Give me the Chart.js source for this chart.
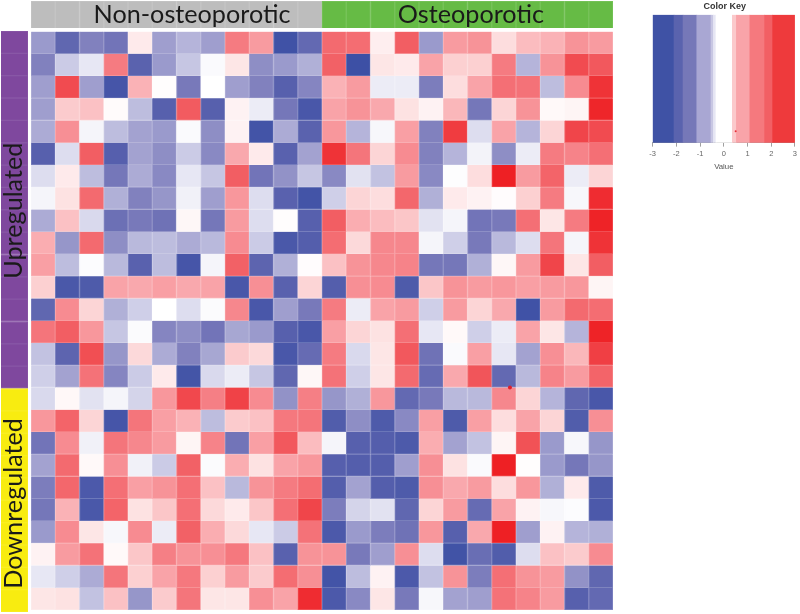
<!DOCTYPE html>
<html>
<head>
<meta charset="utf-8">
<title>Heatmap</title>
<script src="https://cdn.jsdelivr.net/npm/chart.js@4/dist/chart.umd.min.js"></script>
<style>
    html, body { margin: 0; padding: 0; background: #fff; }
    body { position: relative; width: 800px; height: 614px; overflow: hidden; }
    canvas { position: absolute; filter: blur(0.45px); }
    #key-chart { filter: blur(0.6px); }
</style>
</head>
<body>
<canvas id="main-chart" width="640" height="614" style="left:0;top:0"></canvas>
<canvas id="top-chart" width="640" height="30" style="left:0;top:0"></canvas>
<canvas id="side-chart" width="30" height="614" style="left:0;top:0"></canvas>
<canvas id="key-chart" width="160" height="180" style="left:640px;top:0"></canvas>
<script>
// rows top to bottom, 12 samples each
const nonOsteoporotic = [
    [-1.1, -1.9, -1.4, -1.6, 0.25, -1.05, -0.8, -1.05, 1.5, 1.1, -2.9, -1.85],
    [-1.4, -0.55, -0.25, 1.5, -2.0, -1.1, -0.6, -0.05, 0.3, -1.25, -1.1, -0.85],
    [-1.05, 2.3, -1.05, -2.7, 0.85, 0.02, -1.5, 0, -1.05, -1.4, -2.1, -1.35],
    [-1.05, 0.6, 0.7, 0.05, -0.7, -2.1, 2.05, -2.1, 0.15, -0.2, -1.55, -2.6],
    [-0.9, 1.25, -0.1, -0.7, -1.0, -1.1, -0.05, -1.25, 0.15, -2.8, -0.9, -2.0],
    [-2.1, -0.35, 2.0, -2.15, -1.0, -1.25, -0.55, -1.3, 0.95, 0.25, -2.05, -1.0],
    [-0.35, 0.25, -0.7, -1.55, -0.9, -1.3, -0.25, -0.6, 2.0, -1.6, -1.2, -0.6],
    [-0.1, 0.35, 1.8, -0.85, -1.4, -1.15, -0.15, -1.05, 1.15, -0.35, -2.05, -2.8],
    [-0.9, 0.7, -0.4, -1.7, -1.5, -1.65, 0.1, -1.55, 1.1, -0.35, 0.02, -2.1],
    [0.9, -1.15, 1.8, -1.25, -0.75, -0.7, -0.9, -0.75, 1.3, -0.55, -2.55, -2.2],
    [1.05, -0.7, -0.03, -0.75, -2.05, -0.7, -2.7, -0.1, 1.95, -1.95, -0.85, 0.03],
    [0.55, -2.55, -2.4, 1.0, 0.95, 1.05, 0.95, 1.0, -2.6, 1.25, -2.05, 0.5],
    [-1.9, 1.3, 0.5, -0.85, -0.5, 0, -0.35, -0.04, 1.35, -2.6, -1.05, -1.5],
    [1.6, 2.0, 1.15, -0.6, -0.04, -1.35, -1.25, -1.6, -0.95, -1.1, -2.1, -2.6],
    [-0.65, -1.95, 2.25, -1.15, 0.45, -0.9, -1.4, -0.95, 0.6, 0.45, -2.6, -1.8],
    [-0.5, -1.0, 1.65, -1.35, -0.55, 0.25, -2.75, -0.4, -0.2, -0.6, -1.9, 0.1],
    [-0.4, 0.08, -0.3, -0.1, -0.45, 1.15, 2.35, 1.45, 2.45, 1.3, -1.2, 1.45],
    [1.15, 1.9, 0.5, -2.7, 1.6, 1.05, 0.85, -0.7, 0.6, 0.7, 1.55, 1.6],
    [-1.6, 1.3, -0.15, 1.6, 1.35, 1.1, 0.12, 1.4, -1.6, 1.05, 2.1, 0.75],
    [-1.0, 1.8, 0.07, 1.25, -0.15, -0.55, 1.95, -0.04, 0.9, 0.35, 1.0, 1.15],
    [-1.45, 1.85, -2.5, 1.7, 1.05, 1.2, 1.7, 0.7, -0.75, 1.2, 1.5, 1.75],
    [-1.55, 0.85, -2.55, 1.9, 0.35, 0.65, 1.7, 0.45, 0.25, 0.65, 1.7, 2.4],
    [-1.1, 1.3, 0.3, -0.08, 1.3, -0.2, 1.95, 0.9, 0.45, -0.25, -0.55, 1.65],
    [0.15, 1.1, 1.65, 0.07, 0.65, 1.45, 1.2, 1.25, 1.55, 0.7, -2.05, 1.2],
    [-0.25, -0.5, -0.9, 1.6, 0.55, 1.0, 1.55, 0.55, 1.1, 0.6, 1.75, 1.25],
    [0.3, 0.35, -0.65, 0.7, -1.15, 0.6, 1.6, 0.3, 0.3, 1.25, 1.0, 2.8]
];
const osteoporotic = [
    [1.8, 1.75, 0.2, 2.0, -1.1, 1.1, 1.2, 0.4, 0.75, 0.85, 1.2, 1.1],
    [1.95, -3.0, 0.3, 0.25, 1.0, 0.55, 0.55, 1.5, -0.8, 1.2, 2.3, 2.1],
    [0.85, 1.1, -0.2, -0.2, -1.45, 0.4, 1.0, 1.7, 1.65, -0.7, 1.3, 2.7],
    [1.0, 1.2, 0.95, 0.35, 0.15, 0.8, -1.55, 0.5, 1.2, 0.07, 0.12, 2.9],
    [1.15, -0.8, -0.08, 1.05, -1.4, 2.55, -0.35, 1.0, -0.8, 0.5, 2.4, 2.3],
    [2.7, 1.6, 0.5, 1.3, -1.4, -0.8, -0.12, -1.25, -0.2, 1.5, 1.4, 1.7],
    [-1.3, -0.3, -0.65, 1.1, -1.3, -0.02, 0.4, 3.0, 1.1, 1.9, -0.2, 0.5],
    [-0.5, 0.5, 0.4, 1.85, -0.85, 0.25, 0.15, 0.03, 0.55, 1.5, -0.08, 2.8],
    [2.0, 0.9, 0.75, 0.65, -0.3, -0.1, -1.6, -1.5, 1.7, 0.3, 1.5, 2.95],
    [1.75, 0.45, 1.35, 1.35, -0.1, -0.5, -1.5, -0.75, -0.35, 1.6, -0.1, 2.7],
    [0.7, 1.2, 1.35, 1.4, -1.55, -1.55, -0.85, 0.1, 1.1, 2.4, 0.3, 2.0],
    [-2.2, 1.25, 1.3, -2.4, 0.65, 1.2, 1.1, 1.15, 1.05, 1.1, 1.15, 0.12],
    [1.5, -0.2, 1.0, 1.1, -0.5, 1.1, 0.5, 0.95, -2.9, 1.1, 1.8, 1.75],
    [1.05, 0.5, 0.35, 1.7, -0.25, 0.07, -0.5, -0.2, 1.0, 0.3, -0.8, 2.95],
    [1.5, -0.4, 0.3, 2.1, -1.65, -0.05, 1.05, -0.25, -1.0, 1.25, 0.8, 2.5],
    [1.65, -0.5, 0.3, 1.8, -1.8, 0.95, 2.15, -1.85, -0.75, 1.4, 1.1, 1.9],
    [-1.15, -0.85, 1.15, -1.85, -1.5, -0.75, -0.75, 1.35, 0.5, -0.8, -1.9, -2.6],
    [-2.3, -1.25, -2.4, -1.3, 1.05, -2.4, 1.05, 0.4, 1.0, 0.5, -2.3, 1.25],
    [-0.1, -2.1, -2.2, -2.45, 0.9, -1.0, -0.65, 0.12, 2.2, -1.1, -0.08, -1.15],
    [-2.15, -2.2, -2.2, -1.05, 1.25, 0.35, -0.05, 3.0, 0.02, -1.1, -1.55, -1.15],
    [-2.2, -1.0, -2.2, -2.4, 1.25, 0.95, 1.1, 0.4, 1.15, -0.85, 0.25, -2.4],
    [-1.45, -0.45, -0.3, -1.9, 0.5, 1.1, -1.8, 1.0, 0.15, -0.08, -0.03, -2.5],
    [-2.5, -1.1, -1.45, -1.65, 1.15, -2.1, 0.95, 3.0, -1.05, 0.15, -0.8, -0.85],
    [1.2, -1.5, -1.05, 1.25, -0.35, -2.85, -1.75, -2.3, -0.35, 0.7, 0.6, 1.3],
    [-2.8, -0.7, 0.15, -2.5, -0.65, 1.2, -1.45, 1.7, 1.2, 1.1, -1.2, -1.9],
    [-2.5, -1.3, 0.3, -1.5, -0.08, -1.0, -1.05, 1.65, 1.4, 1.1, -2.1, -1.85]
];
const sampleGroups = ['Non-osteoporotic', 'Osteoporotic'];
const sampleCounts = [12, 12];
const rowGroups = ['Upregulated', 'Downregulated'];
const rowCounts = [16, 10];
// where each group label sits, in cell units
const sampleLabelAt = [6.64, 18.14];
const rowLabelAt = [8.04, 21.14];
const keyEdges = [-3, -2.1, -1.72, -1.14, -0.54, -0.44, -0.33, 0.36, 0.53, 1.1, 1.72, 2.06, 3];
const keyTicks = [-3, -2, -1, 0, 1, 2, 3];
const strayDot = [{ x: 19.75, y: 16 }];
const keyDot = [{ x: 0.5, y: 0.09 }];

const BLUE_RED_VALUES = [-3, -2, -1.5, -1, -0.5, 0, 0.5, 1, 1.5, 2, 3];
const BLUE_RED = [[61, 80, 165], [90, 98, 174], [120, 121, 186], [163, 162, 208], [207, 207, 232], [255, 255, 255],
    [252, 213, 214], [249, 163, 168], [245, 123, 129], [242, 94, 99], [238, 32, 36]];
const KEY_COLOURS = ['#3f52a5', '#5a63ae', '#7678b8', '#a9a7d3', '#c8c7e3', '#e6e6f4', '#ffffff', '#fbc9cb',
    '#f9a4a9', '#f5797e', '#f25f64', '#ee3a3c'];
const GROUP_TOP = ['#bdbdbd', '#66bb45'];
const GROUP_SIDE = ['#7f489e', '#f8ec10'];

function valueRgb(v) {
    let i = 0;
    while (i < BLUE_RED_VALUES.length - 2 && v > BLUE_RED_VALUES[i + 1]) i++;
    const t = (v - BLUE_RED_VALUES[i]) / (BLUE_RED_VALUES[i + 1] - BLUE_RED_VALUES[i]);
    return BLUE_RED[i].map((c, k) => Math.round(c + (BLUE_RED[i + 1][k] - c) * t));
}
function rgb(c) { return `rgb(${c[0]},${c[1]},${c[2]})`; }
function lighter(c, amount) { return c.map(k => Math.round(k + (255 - k) * amount)); }
function hexRgb(h) { return [1, 3, 5].map(i => parseInt(h.slice(i, i + 2), 16)); }

const heatCells = [];
nonOsteoporotic.forEach((row, r) => {
    row.concat(osteoporotic[r]).forEach((v, c) => {
        heatCells.push({ x: c + 0.5, y: [r, r + 1], v });
    });
});

function groupOf(i, counts) {
    let n = 0;
    for (let g = 0; g < counts.length; g++) {
        n += counts[g];
        if (i < n) return g;
    }
    return counts.length - 1;
}
const totalSamples = sampleCounts.reduce((a, b) => a + b, 0);
const totalRows = rowCounts.reduce((a, b) => a + b, 0);
const topCells = [];
for (let i = 0; i < totalSamples; i++) topCells.push({ x: i + 0.5, y: [0, 1], g: groupOf(i, sampleCounts) });
const sideCells = [];
for (let i = 0; i < totalRows; i++) sideCells.push({ y: i + 0.5, x: [0, 1], g: groupOf(i, rowCounts) });
const keyBands = KEY_COLOURS.map((colour, i) => ({ x: [keyEdges[i], keyEdges[i + 1]], y: 0.5, colour }));

const hiddenAxis = (min, max, extra) => Object.assign({ type: 'linear', min, max, display: false, offset: false, grid: { display: false } }, extra);
const quiet = { legend: { display: false }, tooltip: { enabled: false } };
const LABEL_FONT = '400 25.2px Lato, "Open Sans", sans-serif';

const topLabels = {
    id: 'topLabels',
    afterDatasetsDraw(chart) {
        const ctx = chart.ctx;
        ctx.save();
        ctx.font = LABEL_FONT;
        ctx.fillStyle = '#1a1a1a';
        ctx.textAlign = 'center';
        ctx.textBaseline = 'middle';
        sampleGroups.forEach((name, i) => {
            ctx.fillText(name, chart.scales.x.getPixelForValue(sampleLabelAt[i]), 14.5);
        });
        ctx.restore();
    }
};
const sideLabels = {
    id: 'sideLabels',
    afterDatasetsDraw(chart) {
        const ctx = chart.ctx;
        ctx.save();
        ctx.font = LABEL_FONT;
        ctx.fillStyle = '#1a1a1a';
        ctx.textAlign = 'center';
        ctx.textBaseline = 'middle';
        rowGroups.forEach((name, i) => {
            ctx.save();
            ctx.translate(14, chart.scales.y.getPixelForValue(rowLabelAt[i]));
            ctx.rotate(-Math.PI / 2);
            ctx.fillText(name, 0, 0);
            ctx.restore();
        });
        ctx.restore();
    }
};

new Chart(document.getElementById('main-chart'), {
    type: 'bar',
    data: {
        datasets: [{
            type: 'scatter',
            data: strayDot,
            backgroundColor: '#e0202c',
            pointRadius: 2,
            borderWidth: 0,
            order: 0
        }, {
            data: heatCells,
            backgroundColor: ctx => rgb(valueRgb(ctx.raw.v)),
            borderColor: ctx => rgb(lighter(valueRgb(ctx.raw.v), 0.22)),
            borderWidth: 1,
            barPercentage: 1,
            categoryPercentage: 1,
            order: 1
        }]
    },
    options: {
        responsive: false,
        animation: false,
        layout: { padding: { left: 31, top: 31.5, right: 27, bottom: 2 } },
        plugins: quiet,
        scales: {
            x: hiddenAxis(0, totalSamples),
            y: hiddenAxis(0, totalRows, { reverse: true })
        }
    }
});

new Chart(document.getElementById('top-chart'), {
    type: 'bar',
    data: {
        datasets: [{
            data: topCells,
            backgroundColor: ctx => GROUP_TOP[ctx.raw.g],
            borderColor: ctx => rgb(lighter(hexRgb(GROUP_TOP[ctx.raw.g]), 0.12)),
            borderWidth: 1,
            barPercentage: 1,
            categoryPercentage: 1
        }]
    },
    options: {
        responsive: false,
        animation: false,
        layout: { padding: { left: 31, top: 1, right: 27, bottom: 2 } },
        plugins: quiet,
        scales: {
            x: hiddenAxis(0, totalSamples),
            y: hiddenAxis(0, 1)
        }
    },
    plugins: [topLabels]
});

new Chart(document.getElementById('side-chart'), {
    type: 'bar',
    data: {
        datasets: [{
            data: sideCells,
            backgroundColor: ctx => GROUP_SIDE[ctx.raw.g],
            borderColor: ctx => rgb(lighter(hexRgb(GROUP_SIDE[ctx.raw.g]), 0.08)),
            borderWidth: 1,
            barPercentage: 1,
            categoryPercentage: 1
        }]
    },
    options: {
        indexAxis: 'y',
        responsive: false,
        animation: false,
        layout: { padding: { left: 1, top: 31, right: 2, bottom: 2 } },
        plugins: quiet,
        scales: {
            x: hiddenAxis(0, 1),
            y: hiddenAxis(0, totalRows, { reverse: true })
        }
    },
    plugins: [sideLabels]
});

new Chart(document.getElementById('key-chart'), {
    type: 'bar',
    data: {
        datasets: [{
            type: 'scatter',
            data: keyDot,
            backgroundColor: '#e8303a',
            pointRadius: 1,
            borderWidth: 0,
            order: 0
        }, {
            data: keyBands,
            backgroundColor: ctx => ctx.raw.colour,
            barPercentage: 1,
            categoryPercentage: 1,
            order: 1
        }]
    },
    options: {
        indexAxis: 'y',
        responsive: false,
        animation: false,
        layout: { padding: { left: 12.7, top: 1, right: 3.3, bottom: 8 } },
        plugins: {
            legend: { display: false },
            tooltip: { enabled: false },
            title: {
                display: true,
                text: 'Color Key',
                color: '#333',
                font: { family: 'Liberation Sans', size: 9, weight: 'bold' },
                padding: { top: 0, bottom: 3 }
            }
        },
        scales: {
            x: {
                type: 'linear',
                min: -3,
                max: 3,
                offset: false,
                afterBuildTicks: axis => { axis.ticks = keyTicks.map(value => ({ value })); },
                grid: { display: true, drawOnChartArea: false, drawTicks: true, tickLength: 4, color: '#777', lineWidth: 0.7 },
                border: { color: '#777', width: 0.7 },
                ticks: { color: '#666', font: { family: 'Liberation Sans', size: 7.5 }, padding: 3, maxRotation: 0 },
                title: { display: true, text: 'Value', color: '#555', font: { family: 'Liberation Sans', size: 7.8 }, padding: { top: 1, bottom: 0 } }
            },
            y: {
                type: 'linear',
                min: 0,
                max: 1,
                display: false,
                offset: false,
                grid: { display: false },
                afterBuildTicks: axis => { axis.ticks = [{ value: 0 }, { value: 1 }]; }
            }
        }
    }
});
</script>
</body>
</html>
